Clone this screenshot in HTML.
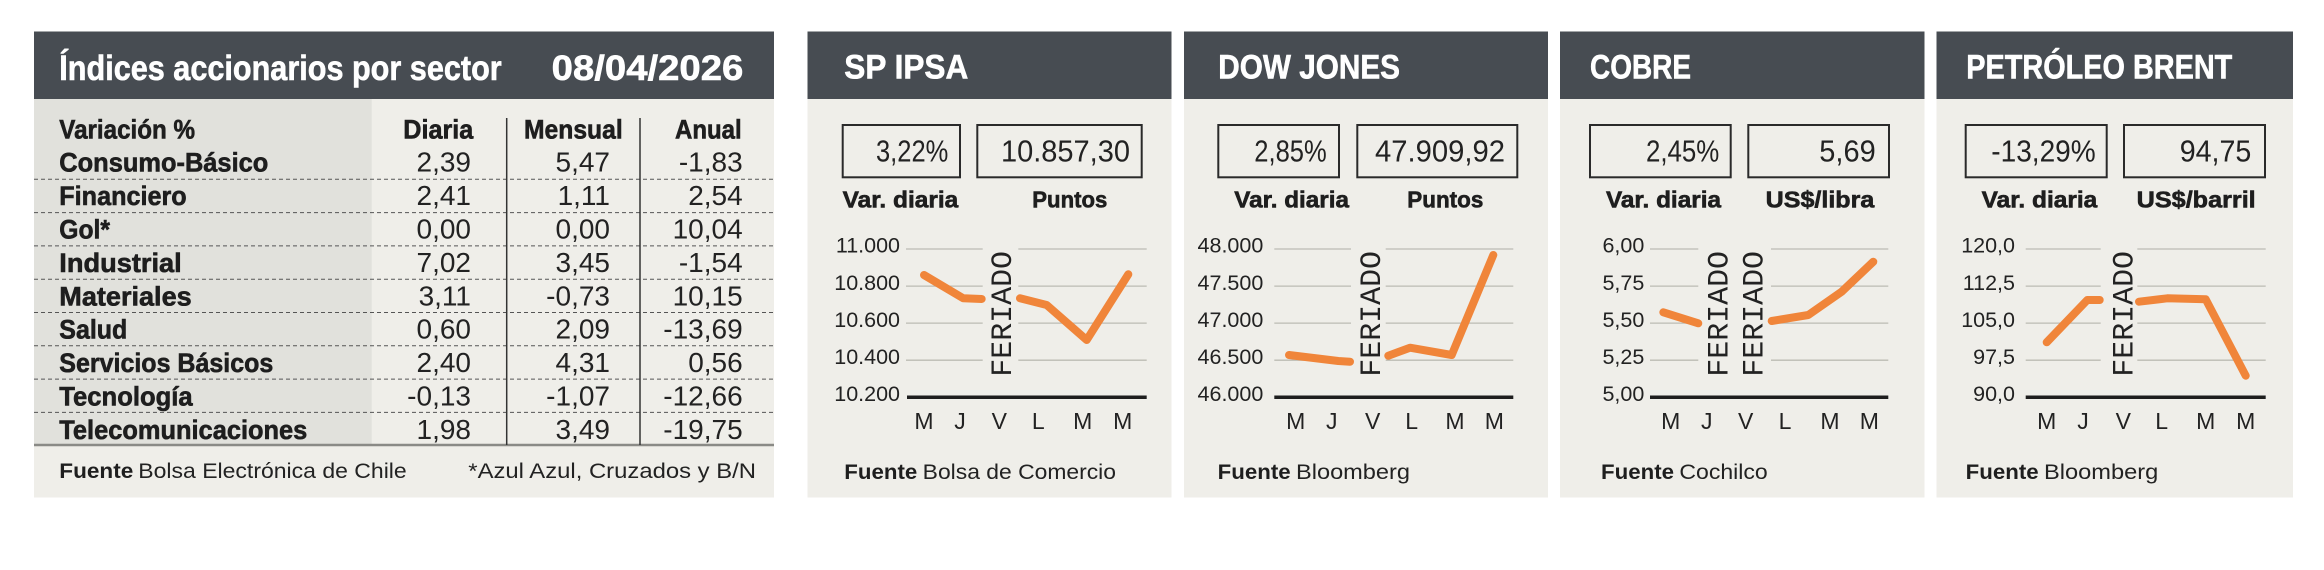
<!DOCTYPE html>
<html><head><meta charset="utf-8"><style>
html,body{margin:0;padding:0;background:#fff;}
svg{display:block;}
.b{font-family:"Liberation Sans",sans-serif;font-weight:bold;fill:#1e1e1e;}
.bb{font-family:"Liberation Sans",sans-serif;font-weight:bold;fill:#1e1e1e;stroke:#1e1e1e;stroke-width:0.6;}
.r{font-family:"Liberation Sans",sans-serif;fill:#222;}
.w{font-family:"Liberation Sans",sans-serif;font-weight:bold;fill:#fff;stroke:#fff;stroke-width:0.6;}
.m{font-family:"Liberation Mono",monospace;fill:#222;}
</style></head><body>
<svg width="2324" height="570" viewBox="0 0 2324 570" xmlns="http://www.w3.org/2000/svg">
<rect width="2324" height="570" fill="#fff"/>
<!-- TABLE PANEL -->
<rect x="34" y="31.5" width="740" height="466" fill="#efeee9"/>
<rect x="34" y="99" width="337.7" height="346" fill="#e1e1dc"/>
<rect x="34" y="31.5" width="740" height="67.5" fill="#474c52"/>
<text class="w" x="59.3" y="80" font-size="35" textLength="442.4" lengthAdjust="spacingAndGlyphs">Índices accionarios por sector</text>
<text class="w" x="551.7" y="80" font-size="35" textLength="191.6" lengthAdjust="spacingAndGlyphs">08/04/2026</text>
<g stroke="#555" stroke-width="1" stroke-dasharray="4,3">
<line x1="34" x2="774" y1="179.3" y2="179.3"/><line x1="34" x2="774" y1="212.6" y2="212.6"/>
<line x1="34" x2="774" y1="245.9" y2="245.9"/><line x1="34" x2="774" y1="279.2" y2="279.2"/>
<line x1="34" x2="774" y1="312.5" y2="312.5"/><line x1="34" x2="774" y1="345.8" y2="345.8"/>
<line x1="34" x2="774" y1="379.1" y2="379.1"/><line x1="34" x2="774" y1="412.4" y2="412.4"/>
</g>
<line x1="34" x2="774" y1="445" y2="445" stroke="#8a8a86" stroke-width="2.5"/>
<line x1="506.7" x2="506.7" y1="118" y2="445" stroke="#333" stroke-width="1.5"/>
<line x1="640" x2="640" y1="118" y2="445" stroke="#333" stroke-width="1.5"/>
<g font-size="26.5">
<text class="bb" x="59.3" y="138.3" textLength="135.7" lengthAdjust="spacingAndGlyphs">Variación %</text>
<text class="bb" x="403.3" y="138.3" textLength="70" lengthAdjust="spacingAndGlyphs">Diaria</text>
<text class="bb" x="524" y="138.3" textLength="98.7" lengthAdjust="spacingAndGlyphs">Mensual</text>
<text class="bb" x="675" y="138.3" textLength="66.7" lengthAdjust="spacingAndGlyphs">Anual</text>
<text class="bb" x="59.3" y="171.7" textLength="209" lengthAdjust="spacingAndGlyphs">Consumo-Básico</text>
<text class="bb" x="59.3" y="205.1" textLength="127.4" lengthAdjust="spacingAndGlyphs">Financiero</text>
<text class="bb" x="59.3" y="238.5" textLength="50.7" lengthAdjust="spacingAndGlyphs">Gol*</text>
<text class="bb" x="59.3" y="271.9" textLength="122.4" lengthAdjust="spacingAndGlyphs">Industrial</text>
<text class="bb" x="59.3" y="305.3" textLength="132.4" lengthAdjust="spacingAndGlyphs">Materiales</text>
<text class="bb" x="59.3" y="338.7" textLength="68" lengthAdjust="spacingAndGlyphs">Salud</text>
<text class="bb" x="59.3" y="372.1" textLength="214" lengthAdjust="spacingAndGlyphs">Servicios Básicos</text>
<text class="bb" x="59.3" y="405.5" textLength="133.4" lengthAdjust="spacingAndGlyphs">Tecnología</text>
<text class="bb" x="59.3" y="438.9" textLength="248" lengthAdjust="spacingAndGlyphs">Telecomunicaciones</text>
</g>
<g font-size="28" text-anchor="end">
<text class="r" x="471" y="171.7">2,39</text><text class="r" x="610" y="171.7">5,47</text><text class="r" x="742.7" y="171.7">-1,83</text>
<text class="r" x="471" y="205.1">2,41</text><text class="r" x="610" y="205.1">1,11</text><text class="r" x="742.7" y="205.1">2,54</text>
<text class="r" x="471" y="238.5">0,00</text><text class="r" x="610" y="238.5">0,00</text><text class="r" x="742.7" y="238.5">10,04</text>
<text class="r" x="471" y="271.9">7,02</text><text class="r" x="610" y="271.9">3,45</text><text class="r" x="742.7" y="271.9">-1,54</text>
<text class="r" x="471" y="305.3">3,11</text><text class="r" x="610" y="305.3">-0,73</text><text class="r" x="742.7" y="305.3">10,15</text>
<text class="r" x="471" y="338.7">0,60</text><text class="r" x="610" y="338.7">2,09</text><text class="r" x="742.7" y="338.7">-13,69</text>
<text class="r" x="471" y="372.1">2,40</text><text class="r" x="610" y="372.1">4,31</text><text class="r" x="742.7" y="372.1">0,56</text>
<text class="r" x="471" y="405.5">-0,13</text><text class="r" x="610" y="405.5">-1,07</text><text class="r" x="742.7" y="405.5">-12,66</text>
<text class="r" x="471" y="438.9">1,98</text><text class="r" x="610" y="438.9">3,49</text><text class="r" x="742.7" y="438.9">-19,75</text>
</g>
<text class="b" x="59.3" y="478" font-size="21.5" textLength="74" lengthAdjust="spacingAndGlyphs">Fuente</text>
<text class="r" x="138.3" y="478" font-size="21.5" textLength="268.4" lengthAdjust="spacingAndGlyphs">Bolsa Electrónica de Chile</text>
<text class="r" x="468.3" y="478" font-size="21.5" textLength="287.7" lengthAdjust="spacingAndGlyphs">*Azul Azul, Cruzados y B/N</text>

<!-- PANEL BACKGROUNDS -->
<g fill="#efeee9">
<rect x="807.5" y="31.5" width="364" height="466"/>
<rect x="1184" y="31.5" width="364" height="466"/>
<rect x="1560" y="31.5" width="364.5" height="466"/>
<rect x="1936.5" y="31.5" width="356.5" height="466"/>
</g>
<g fill="#474c52">
<rect x="807.5" y="31.5" width="364" height="67.5"/>
<rect x="1184" y="31.5" width="364" height="67.5"/>
<rect x="1560" y="31.5" width="364.5" height="67.5"/>
<rect x="1936.5" y="31.5" width="356.5" height="67.5"/>
</g>
<g font-size="34.5">
<text class="w" x="844.3" y="78.3" textLength="124" lengthAdjust="spacingAndGlyphs">SP IPSA</text>
<text class="w" x="1218.3" y="78.3" textLength="181.7" lengthAdjust="spacingAndGlyphs">DOW JONES</text>
<text class="w" x="1590" y="78.3" textLength="101" lengthAdjust="spacingAndGlyphs">COBRE</text>
<text class="w" x="1966.3" y="78.3" textLength="266" lengthAdjust="spacingAndGlyphs">PETRÓLEO BRENT</text>
</g>
<!-- value boxes -->
<g fill="none" stroke="#2a2a2a" stroke-width="2">
<rect x="842.7" y="125" width="117.3" height="52.3"/><rect x="977.3" y="125" width="164.4" height="52.3"/>
<rect x="1218.3" y="125" width="120.7" height="52.3"/><rect x="1357.3" y="125" width="160" height="52.3"/>
<rect x="1590" y="125" width="140.7" height="52.3"/><rect x="1748.3" y="125" width="140.7" height="52.3"/>
<rect x="1965.7" y="125" width="141" height="52.3"/><rect x="2124" y="125" width="141" height="52.3"/>
</g>
<g font-size="31">
<text class="r" x="876" y="161.7" textLength="72.3" lengthAdjust="spacingAndGlyphs">3,22%</text>
<text class="r" x="1001" y="161.7" textLength="129" lengthAdjust="spacingAndGlyphs">10.857,30</text>
<text class="r" x="1254.3" y="161.7" textLength="72.4" lengthAdjust="spacingAndGlyphs">2,85%</text>
<text class="r" x="1375" y="161.7" textLength="130" lengthAdjust="spacingAndGlyphs">47.909,92</text>
<text class="r" x="1646" y="161.7" textLength="73.3" lengthAdjust="spacingAndGlyphs">2,45%</text>
<text class="r" x="1819.3" y="161.7" textLength="56.4" lengthAdjust="spacingAndGlyphs">5,69</text>
<text class="r" x="1991.3" y="161.7" textLength="104.4" lengthAdjust="spacingAndGlyphs">-13,29%</text>
<text class="r" x="2179.7" y="161.7" textLength="71.6" lengthAdjust="spacingAndGlyphs">94,75</text>
</g>
<g font-size="23">
<text class="bb" x="842.7" y="207.3" textLength="115.6" lengthAdjust="spacingAndGlyphs">Var. diaria</text>
<text class="bb" x="1032.3" y="207.3" textLength="75" lengthAdjust="spacingAndGlyphs">Puntos</text>
<text class="bb" x="1234.3" y="207.3" textLength="114.7" lengthAdjust="spacingAndGlyphs">Var. diaria</text>
<text class="bb" x="1407.3" y="207.3" textLength="76" lengthAdjust="spacingAndGlyphs">Puntos</text>
<text class="bb" x="1606" y="207.3" textLength="115" lengthAdjust="spacingAndGlyphs">Var. diaria</text>
<text class="bb" x="1765.7" y="207.3" textLength="108.6" lengthAdjust="spacingAndGlyphs">US$/libra</text>
<text class="bb" x="1981.7" y="207.3" textLength="115.6" lengthAdjust="spacingAndGlyphs">Var. diaria</text>
<text class="bb" x="2136.7" y="207.3" textLength="119" lengthAdjust="spacingAndGlyphs">US$/barril</text>
</g>
<!-- gridlines -->
<g stroke="#bcbcb4" stroke-width="1.3">
<path d="M906 249H982.7M1018.3 249H1146.7M906 286.1H982.7M1018.3 286.1H1146.7M906 323.1H982.7M1018.3 323.1H1146.7M906 360.2H982.7M1018.3 360.2H1146.7"/>
<path d="M1274.3 249H1351M1385.7 249H1513.3M1274.3 286.1H1351M1385.7 286.1H1513.3M1274.3 323.1H1351M1385.7 323.1H1513.3M1274.3 360.2H1351M1385.7 360.2H1513.3"/>
<path d="M1650 249H1698.3M1771 249H1888.3M1650 286.1H1698.3M1771 286.1H1888.3M1650 323.1H1698.3M1771 323.1H1888.3M1650 360.2H1698.3M1771 360.2H1888.3"/>
<path d="M2025.7 249H2100.7M2137.3 249H2265.7M2025.7 286.1H2100.7M2137.3 286.1H2265.7M2025.7 323.1H2100.7M2137.3 323.1H2265.7M2025.7 360.2H2100.7M2137.3 360.2H2265.7"/>
</g>
<g stroke="#1e1e1e" stroke-width="3.5">
<line x1="907" x2="1146.7" y1="397.3" y2="397.3"/>
<line x1="1274.3" x2="1513.3" y1="397.3" y2="397.3"/>
<line x1="1650" x2="1888.3" y1="397.3" y2="397.3"/>
<line x1="2025.7" x2="2265.7" y1="397.3" y2="397.3"/>
</g>
<!-- y labels -->
<g font-size="21.5" text-anchor="end">
<text class="r" x="900" y="252.7">11.000</text><text class="r" x="900" y="289.8">10.800</text><text class="r" x="900" y="326.8">10.600</text><text class="r" x="900" y="363.9">10.400</text><text class="r" x="900" y="401">10.200</text>
<text class="r" x="1263.3" y="252.7">48.000</text><text class="r" x="1263.3" y="289.8">47.500</text><text class="r" x="1263.3" y="326.8">47.000</text><text class="r" x="1263.3" y="363.9">46.500</text><text class="r" x="1263.3" y="401">46.000</text>
<text class="r" x="1644.3" y="252.7">6,00</text><text class="r" x="1644.3" y="289.8">5,75</text><text class="r" x="1644.3" y="326.8">5,50</text><text class="r" x="1644.3" y="363.9">5,25</text><text class="r" x="1644.3" y="401">5,00</text>
<text class="r" x="2015" y="252.7">120,0</text><text class="r" x="2015" y="289.8">112,5</text><text class="r" x="2015" y="326.8">105,0</text><text class="r" x="2015" y="363.9">97,5</text><text class="r" x="2015" y="401">90,0</text>
</g>
<!-- x labels -->
<g font-size="23" text-anchor="middle">
<text class="r" x="924" y="429">M</text><text class="r" x="960" y="429">J</text><text class="r" x="999.3" y="429">V</text><text class="r" x="1038.3" y="429">L</text><text class="r" x="1082.7" y="429">M</text><text class="r" x="1122.7" y="429">M</text>
<text class="r" x="1295.7" y="429">M</text><text class="r" x="1331.7" y="429">J</text><text class="r" x="1372.7" y="429">V</text><text class="r" x="1411.7" y="429">L</text><text class="r" x="1455" y="429">M</text><text class="r" x="1494.3" y="429">M</text>
<text class="r" x="1670.7" y="429">M</text><text class="r" x="1706.7" y="429">J</text><text class="r" x="1745.7" y="429">V</text><text class="r" x="1785" y="429">L</text><text class="r" x="1830" y="429">M</text><text class="r" x="1869.3" y="429">M</text>
<text class="r" x="2046.7" y="429">M</text><text class="r" x="2083" y="429">J</text><text class="r" x="2123.3" y="429">V</text><text class="r" x="2161.7" y="429">L</text><text class="r" x="2205.7" y="429">M</text><text class="r" x="2245.7" y="429">M</text>
</g>
<!-- FERIADO -->
<g font-size="30">
<text class="m" transform="translate(1011,376.7) rotate(-90)" x="0" y="0" textLength="125.7" lengthAdjust="spacingAndGlyphs">FERIADO</text>
<text class="m" transform="translate(1380,376.7) rotate(-90)" x="0" y="0" textLength="125.7" lengthAdjust="spacingAndGlyphs">FERIADO</text>
<text class="m" transform="translate(1727.7,376.7) rotate(-90)" x="0" y="0" textLength="125.7" lengthAdjust="spacingAndGlyphs">FERIADO</text>
<text class="m" transform="translate(1762.7,376.7) rotate(-90)" x="0" y="0" textLength="125.7" lengthAdjust="spacingAndGlyphs">FERIADO</text>
<text class="m" transform="translate(2132.3,376.7) rotate(-90)" x="0" y="0" textLength="125.7" lengthAdjust="spacingAndGlyphs">FERIADO</text>
</g>
<!-- series -->
<g fill="none" stroke="#f0853a" stroke-width="8" stroke-linejoin="round" stroke-linecap="round">
<polyline points="924,275 963.3,298.3 981.7,299"/>
<polyline points="1020,298.3 1046.7,305 1086.7,340 1128.3,274.3"/>
<polyline points="1289,355 1338.3,361 1350,361.7"/>
<polyline points="1388.3,355.7 1410,347.7 1451.7,355 1493.3,255"/>
<polyline points="1663.3,312.3 1698.3,323.3"/>
<polyline points="1771.7,321 1808.3,315 1841.7,291.7 1873.3,261.7"/>
<polyline points="2046.7,342.3 2087.3,300 2099.7,300"/>
<polyline points="2139,301.7 2167.3,298.3 2205.7,299.3 2245.7,375.7"/>
</g>
<!-- footers -->
<g font-size="21.5">
<text class="b" x="844.3" y="479" textLength="73" lengthAdjust="spacingAndGlyphs">Fuente</text>
<text class="r" x="922.7" y="479" textLength="193.3" lengthAdjust="spacingAndGlyphs">Bolsa de Comercio</text>
<text class="b" x="1217.7" y="479" textLength="73" lengthAdjust="spacingAndGlyphs">Fuente</text>
<text class="r" x="1296" y="479" textLength="114" lengthAdjust="spacingAndGlyphs">Bloomberg</text>
<text class="b" x="1601" y="479" textLength="73" lengthAdjust="spacingAndGlyphs">Fuente</text>
<text class="r" x="1679.4" y="479" textLength="88.3" lengthAdjust="spacingAndGlyphs">Cochilco</text>
<text class="b" x="1965.7" y="479" textLength="73" lengthAdjust="spacingAndGlyphs">Fuente</text>
<text class="r" x="2044" y="479" textLength="114.3" lengthAdjust="spacingAndGlyphs">Bloomberg</text>
</g>
</svg>
</body></html>
